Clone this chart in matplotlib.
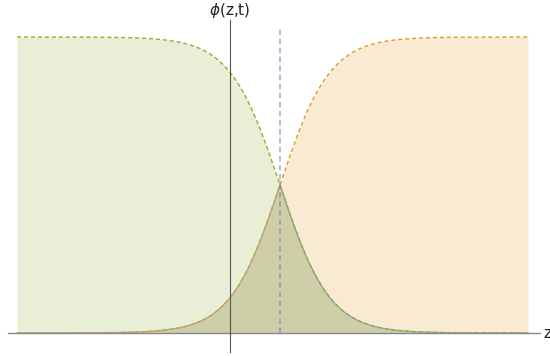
import numpy as np
import matplotlib
matplotlib.use("Agg")
import matplotlib.pyplot as plt

# data
z_min, z_max = -4.26, 5.96
z0 = 1.0                      # position of the front (dashed vertical line)
z = np.linspace(z_min, z_max, 600)
phi_left = 0.5 * (1 - np.tanh(z - z0))    # green, decreasing
phi_right = 0.5 * (1 + np.tanh(z - z0))   # orange, increasing
phi_min = np.minimum(phi_left, phi_right) # blue overlap

blue = "#5e81b5"
orange = "#e19c24"
green = "#8fb032"

fig = plt.figure(figsize=(5.5, 3.56), dpi=100)
ax = fig.add_axes([0, 0, 1, 1])
# pixel mapping: x_px = 230 + 50*z ; y_px = 333 - 296*v
ax.set_xlim(-230 / 50, (550 - 230) / 50)
ax.set_ylim(-(356 - 333) / 296, 333 / 296)
ax.axis("off")

ax.fill_between(z, 0, phi_min, color=blue, alpha=0.2, lw=0)
ax.fill_between(z, 0, phi_right, color=orange, alpha=0.2, lw=0)
ax.fill_between(z, 0, phi_left, color=green, alpha=0.2, lw=0)

ax.plot(z, phi_min, color=blue, alpha=0.6, lw=1.0)
ax.plot(z, phi_right, color=orange, lw=1.0, ls=(0, (3, 2)))
ax.plot(z, phi_left, color=green, lw=1.0, ls=(0, (3, 2)))

# vertical dashed line
ax.plot([z0, z0], [-0.0, (333 - 27) / 296], color=blue, alpha=0.55, lw=1.3,
        ls=(0, (3, 2)))

# axes lines
ax.plot([(8 - 230) / 50, (540 - 230) / 50], [0, 0], color="#888888", lw=1.0,
        zorder=5)
ax.plot([0, 0], [(333 - 20) / 296, (333 - 352) / 296], color="#555555",
        lw=0.8, zorder=5)

ax.text((543 - 230) / 50, 0, "z", fontsize=11, ha="left", va="center",
        color="#222222")
ax.text(0, (333 - 10) / 296, r"$\phi$(z,t)", fontsize=11, ha="center",
        va="center", color="#222222")

fig.savefig("out.png", dpi=100)
